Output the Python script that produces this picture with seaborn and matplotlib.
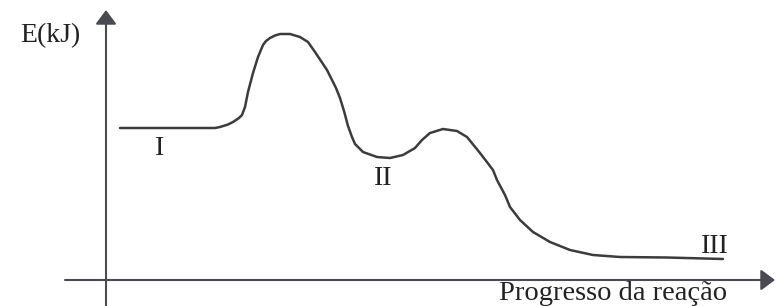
import matplotlib
matplotlib.use("Agg")
import matplotlib.pyplot as plt
import seaborn as sns
import pandas as pd

# Reaction progress (arbitrary units) and energy (kJ, arbitrary units)
progress = [1.4, 9.4, 10.9, 11.4, 12.2, 12.7, 13.3, 13.6, 13.9, 14.2, 14.7, 15.2, 15.7, 16.0,
            16.4, 16.9, 17.4, 18.4, 19.4, 20.2, 20.9, 22.1, 23.0, 23.4, 23.8, 24.2, 24.6, 24.9,
            25.7, 27.1, 28.4, 29.7, 30.9, 31.6, 32.4, 33.7, 35.1, 36.1, 37.4, 38.7, 39.1,
            39.9, 40.4, 41.4, 42.7, 44.4, 46.4, 48.7, 51.4, 56.1, 61.7]
energy = [15.2, 15.2, 15.2, 15.3, 15.55, 15.8, 16.2, 16.5, 17.3, 18.8, 20.7, 22.3, 23.5, 23.9,
          24.2, 24.45, 24.6, 24.6, 24.3, 23.8, 22.8, 21.0, 19.2, 18.2, 16.9, 15.4, 14.3, 13.6,
          12.8, 12.3, 12.2, 12.5, 13.2, 14.0, 14.7, 15.1, 14.9, 14.3, 12.7, 11.0, 10.0,
          8.5, 7.3, 6.0, 4.8, 3.8, 3.0, 2.5, 2.3, 2.25, 2.1]

state_labels = ["I", "II", "III"]
state_x = [5.4, 27.75, 60.9]
state_y = [12.5, 9.5, 2.7]

y_label = "E(kJ)"
x_label = "Progresso da reação"

sns.set_theme(style="white")
plt.rcParams["font.family"] = ["Liberation Serif", "DejaVu Serif"]

df = pd.DataFrame({"progress": progress, "energy": energy})

fig = plt.figure(figsize=(7.77, 3.06), dpi=100)
ax = fig.add_axes([0, 0, 1, 1])
ax.set_xlim(-10.6, 67.1)
ax.set_ylim(-2.6, 28.0)
ax.axis("off")

sns.lineplot(data=df, x="progress", y="energy", ax=ax, color="#3c3c3c",
             linewidth=1.8, sort=False, estimator=None,
             solid_joinstyle="round", solid_capstyle="round")

arrow_kw = dict(arrowstyle="-|>,head_length=0.43,head_width=0.32", color="#4a4a52",
                lw=1.5, mutation_scale=20, shrinkA=0, shrinkB=0)
ax.annotate("", xy=(66.9, 0), xytext=(-4.1, 0), arrowprops=arrow_kw)
ax.annotate("", xy=(0, 27.0), xytext=(0, -2.6), arrowprops=arrow_kw)

for lab, x, y in zip(state_labels, state_x, state_y):
    ax.text(x, y, lab, ha="center", va="baseline", fontsize=20, color="#222222")

ax.text(-5.6, 23.83, y_label, ha="center", va="baseline", fontsize=20, color="#222222")
ax.text(50.75, -2.0, x_label, ha="center", va="baseline", fontsize=20.5, color="#222222")

fig.savefig("out.png", dpi=100)
